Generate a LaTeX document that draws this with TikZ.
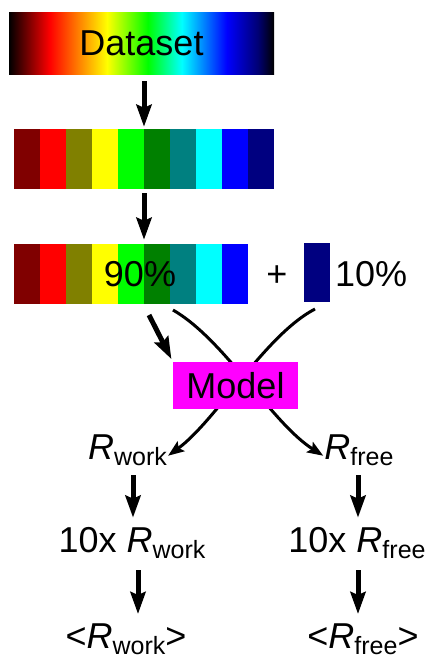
\documentclass[tikz,border=0pt]{standalone}
\usepackage{fontspec}
\setmainfont{Liberation Sans}
\usetikzlibrary{arrows.meta,backgrounds}
\definecolor{cmaroon}{RGB}{128,0,0}
\definecolor{colive}{RGB}{128,128,0}
\definecolor{clime}{RGB}{0,255,0}
\definecolor{cgreen}{RGB}{0,128,0}
\definecolor{cteal}{RGB}{0,128,128}
\definecolor{cnavy}{RGB}{0,0,128}
\definecolor{ccyan}{RGB}{0,255,255}
\definecolor{cmagenta}{RGB}{255,0,255}
\definecolor{cred}{RGB}{255,0,0}
\definecolor{cyellow}{RGB}{255,255,0}
\definecolor{cblue}{RGB}{0,0,255}
\definecolor{cdark}{RGB}{0,0,60}
\pgfdeclarehorizontalshading{spectrum}{100bp}{rgb(0bp)=(0,0,0); rgb(25bp)=(0,0,0); rgb(32.7bp)=(1,0,0); rgb(43.5bp)=(1,1,0); rgb(51.2bp)=(0,1,0); rgb(57.6bp)=(0,1,1); rgb(66.1bp)=(0,0,1); rgb(72bp)=(0,0,0.45); rgb(75bp)=(0,0,0); rgb(100bp)=(0,0,0)}
\newcommand{\Rsub}[1]{\textit{R}\raisebox{-6pt}{\fontsize{25}{28}\selectfont #1}}
\begin{document}
\begin{tikzpicture}[x=1pt,y=-1pt,
  txt/.style={font=\fontsize{36}{40}\selectfont, inner sep=1pt},
  arr/.style={line width=5pt, -{Stealth[length=22pt,width=15pt,inset=3pt]}},
  carr/.style={line width=3pt, -{Stealth[length=16pt,width=12pt,inset=3pt]}},
  barbox/.style={inner sep=0, minimum height=60pt}]
\useasboundingbox (0,0) rectangle (430,662);

% Dataset
\node[txt, shade, shading=spectrum, minimum width=265pt, minimum height=62pt, inner sep=0] (dataset) at (141.5,43) {Dataset};

% 10-block bar
\node[barbox, minimum width=260pt] (bar10) at (144,159) {};
\foreach \c [count=\i from 0] in {cmaroon,cred,colive,cyellow,clime,cgreen,cteal,ccyan,cblue,cnavy}
  \fill[\c] (14+26*\i,129) rectangle ++(26,60);

% 9-block bar
\node[barbox, minimum width=234pt] (bar90) at (131,274) {};
\foreach \c [count=\i from 0] in {cmaroon,cred,colive,cyellow,clime,cgreen,cteal,ccyan,cblue}
  \fill[\c] (14+26*\i,244) rectangle ++(26,60);
\node[txt] (p90) at (140,274) {90\%};
\node[txt] (plus) at (277,276) {+};
\node[fill=cnavy, minimum width=26pt, minimum height=59pt, inner sep=0] (b10) at (317,272.5) {};
\node[txt, anchor=west] (p10) at (334,274) {10\%};

% Model
\node[txt, fill=cmagenta, minimum width=125pt, minimum height=47pt, inner sep=0] (model) at (235.5,385.5) {Model};

% results
\node[txt, anchor=base] (rwork) at (127.5,459) {\Rsub{work}};
\node[txt, anchor=base] (rfree) at (359,459) {\Rsub{free}};
\node[txt, anchor=base] (rwork10) at (132,552) {10x \Rsub{work}};
\node[txt, anchor=base] (rfree10) at (357,552) {10x \Rsub{free}};
\node[txt, anchor=base] (avwork) at (126,648) {<\Rsub{work}>};
\node[txt, anchor=base] (avfree) at (363,648) {<\Rsub{free}>};

% connector start points
\coordinate (s0) at (149,315);
\coordinate (a0) at (173,310);
\coordinate (b0) at (315,309);

% vertical arrows
\draw[arr, shorten <=7pt, shorten >=2pt] (dataset.south -| bar10.north) -- (bar10.north);
\draw[arr, shorten <=4pt, shorten >=4pt] (bar10.south) -- (bar10.south |- bar90.north);
\draw[arr, shorten <=9pt, shorten >=8pt] ([xshift=5.5pt]rwork.south) -- ([xshift=5.5pt]rwork.south |- rwork10.north);
\draw[arr, shorten <=9pt, shorten >=8pt] ([xshift=-1pt]rfree.south) -- ([xshift=-1pt]rfree.south |- rfree10.north);
\draw[arr, shorten <=11pt, shorten >=8pt] ([xshift=6pt]rwork10.south) -- ([xshift=6pt]rwork10.south |- avwork.north);
\draw[arr, shorten <=11pt, shorten >=8pt] ([xshift=1pt]rfree10.south) -- ([xshift=1pt]rfree10.south |- avfree.north);

% diagonal arrow into Model
\draw[arr, shorten >=3pt] (s0) -- (model.north west);

% crossing curves behind Model
\begin{pgfonlayer}{background}
\draw[carr] (a0) .. controls +(52,30) and +(-52,-33) .. ([yshift=-6pt]rfree.west);
\draw[carr] (b0) .. controls +(-50,26) and +(48,-35) .. ([yshift=-6pt]rwork.east);
\end{pgfonlayer}
\end{tikzpicture}
\end{document}
